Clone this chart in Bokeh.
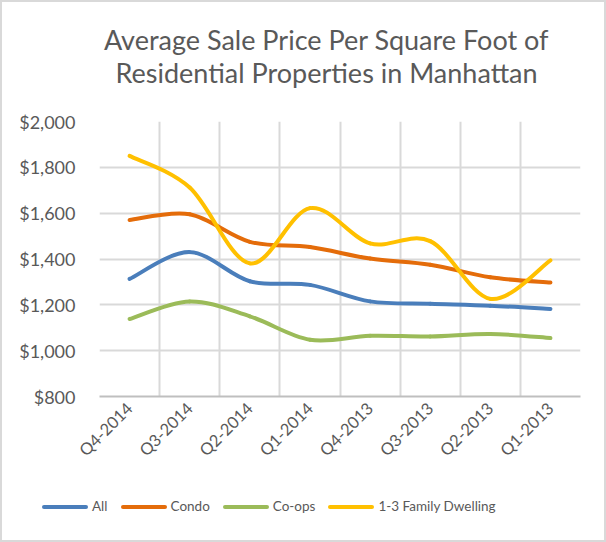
import math
import numpy as np
from bokeh.plotting import figure
from bokeh.layouts import column
from bokeh.models import (Range1d, FixedTicker, NumeralTickFormatter, Label, Div, ColumnDataSource)
from bokeh.embed import file_html
from bokeh.resources import INLINE

quarters = ["Q4-2014", "Q3-2014", "Q2-2014", "Q1-2014", "Q4-2013", "Q3-2013", "Q2-2013", "Q1-2013"]
all_vals = [1313, 1430, 1303, 1287, 1215, 1205, 1196, 1182]
condo_vals = [1570, 1595, 1475, 1452, 1402, 1375, 1320, 1297]
coops_vals = [1138, 1215, 1150, 1048, 1065, 1062, 1073, 1055]
family_vals = [1850, 1712, 1381, 1622, 1468, 1478, 1226, 1394]

series_names = ["All", "Condo", "Co-ops", "1-3 Family Dwelling"]
series_vals = [all_vals, condo_vals, coops_vals, family_vals]
colors = ["#4A7EBB", "#E46C0A", "#9BBB59", "#FFC000"]
y_ticks = [800, 1000, 1200, 1400, 1600, 1800, 2000]
title_lines = ["Average Sale Price Per Square Foot of", "Residential Properties in Manhattan"]

FONT = "Lato"
GRAY = "#595959"
CW = 602          # content width inside the 2px border
TOP_H = 107       # title strip height
MAIN_BOTTOM = 90  # room for rotated category labels
LEG_H = 538 - TOP_H - (12 + 275 + MAIN_BOTTOM)

# ---- title strip (its plot area lines up with the chart's plot area) ----
p0 = figure(width=CW, height=TOP_H, output_backend="svg", toolbar_location=None,
            x_range=Range1d(99, 580), y_range=Range1d(0, TOP_H),
            x_axis_type=None, y_axis_type=None, min_border=0)
p0.outline_line_color = None
p0.grid.visible = False
for txt, ty in zip(title_lines, [70, 37]):
    p0.add_layout(Label(x=326, y=ty, text=txt, text_align="center", text_baseline="middle",
                        text_font=FONT, text_font_size="27px", text_color=GRAY))

# ---- main chart ----
p = figure(frame_width=481, frame_height=275, output_backend="svg", toolbar_location=None,
           x_range=Range1d(-0.5, len(quarters) - 0.5), y_range=Range1d(800, 2000),
           min_border_left=97, min_border_right=CW - 97 - 481, min_border_top=12,
           min_border_bottom=MAIN_BOTTOM)
p.outline_line_color = None

xs = np.arange(len(quarters), dtype=float)
for name, vals, col in zip(series_names, series_vals, colors):
    ys = np.array(vals, dtype=float)
    n = len(xs)
    x0, y0, x1, y1, cx0, cy0, cx1, cy1 = [], [], [], [], [], [], [], []
    for i in range(n - 1):
        im1 = max(i - 1, 0)
        ip2 = min(i + 2, n - 1)
        x0.append(xs[i]); y0.append(ys[i]); x1.append(xs[i + 1]); y1.append(ys[i + 1])
        cx0.append(xs[i] + (xs[i + 1] - xs[im1]) / 6.0)
        cy0.append(ys[i] + (ys[i + 1] - ys[im1]) / 6.0)
        cx1.append(xs[i + 1] - (xs[ip2] - xs[i]) / 6.0)
        cy1.append(ys[i + 1] - (ys[ip2] - ys[i]) / 6.0)
    src = ColumnDataSource(dict(x0=x0, y0=y0, x1=x1, y1=y1, cx0=cx0, cy0=cy0, cx1=cx1, cy1=cy1))
    p.bezier(x0="x0", y0="y0", x1="x1", y1="y1", cx0="cx0", cy0="cy0", cx1="cx1", cy1="cy1",
             source=src, line_color=col, line_width=4, line_cap="round")

p.xaxis.ticker = FixedTicker(ticks=list(range(len(quarters))))
p.xaxis.major_label_overrides = {i: q for i, q in enumerate(quarters)}
p.xaxis.major_label_orientation = math.pi / 4
p.xaxis.major_label_text_font = FONT
p.xaxis.major_label_text_font_size = "16.5px"
p.xaxis.major_label_text_color = GRAY
p.xaxis.major_tick_line_color = None
p.xaxis.minor_tick_line_color = None
p.xaxis.axis_line_color = "#BFBFBF"
p.xaxis.axis_line_width = 2
p.xaxis.major_label_standoff = 3

p.yaxis.ticker = FixedTicker(ticks=y_ticks)
p.yaxis.formatter = NumeralTickFormatter(format="$0,0")
p.yaxis.major_label_text_font = FONT
p.yaxis.major_label_text_font_size = "18px"
p.yaxis.major_label_text_color = GRAY
p.yaxis.major_tick_line_color = None
p.yaxis.minor_tick_line_color = None
p.yaxis.axis_line_color = None
p.yaxis.major_label_standoff = 18

p.xgrid.ticker = FixedTicker(ticks=[i - 0.5 for i in range(len(quarters) + 1)])
p.xgrid.grid_line_color = "#D9D9D9"
p.xgrid.grid_line_width = 2
p.ygrid.grid_line_color = "#D9D9D9"
p.ygrid.grid_line_width = 2

# ---- legend strip ----
items_html = "".join(
    f'<span style="display:inline-flex;align-items:center;margin-right:13px">'
    f'<span style="display:inline-block;width:46px;height:4px;border-radius:2px;background:{c}"></span>'
    f'<span style="margin-left:4px">{n}</span></span>'
    for n, c in zip(series_names, colors))
legend_div = Div(
    text=(f'<div style="display:flex;align-items:center;height:42px;padding-left:40px;'
          f'font-family:{FONT};font-size:13.5px;color:{GRAY};white-space:nowrap">{items_html}</div>'),
    width=CW, height=LEG_H, margin=0)

layout = column(p0, p, legend_div, spacing=0,
                styles={"border": "2px solid #D9D9D9", "background-color": "white"})

open("out.html", "w").write(file_html(layout, INLINE))
